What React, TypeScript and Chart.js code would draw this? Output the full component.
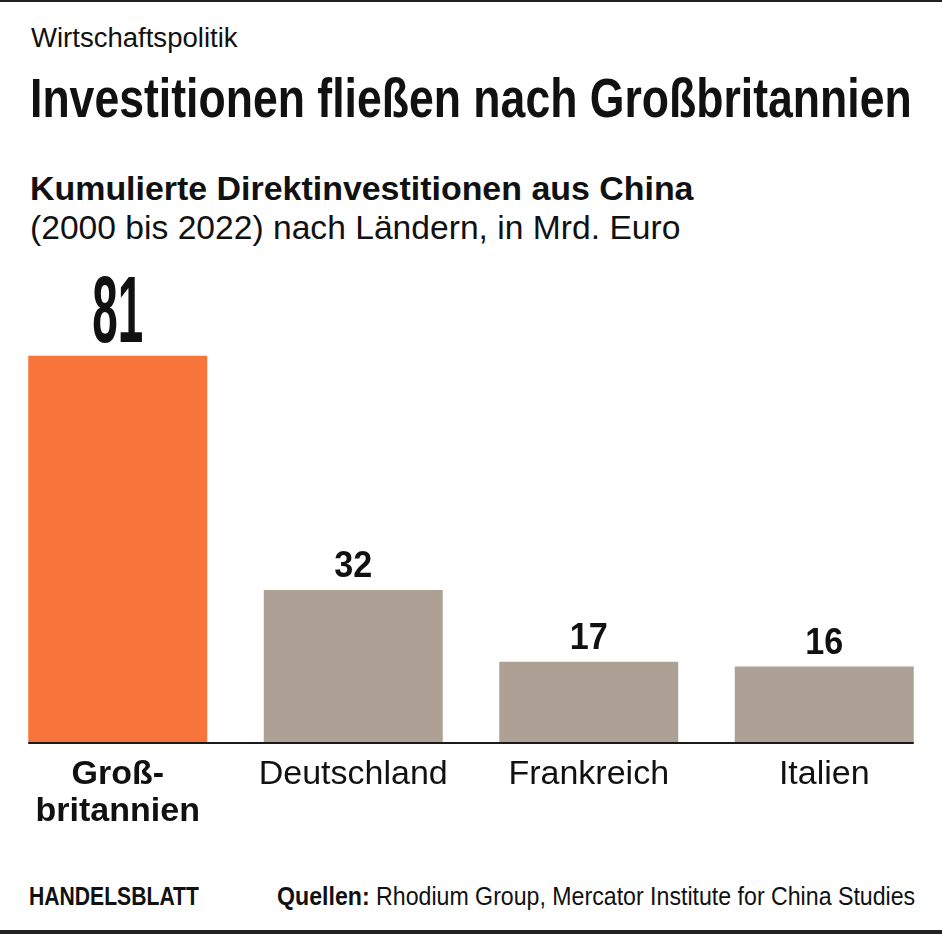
import React, { useEffect, useLayoutEffect, useRef, useState } from "react";
import { Chart, registerables } from "chart.js";

Chart.register(...registerables);

const categories: (string | string[])[] = [["Groß-", "britannien"], "Deutschland", "Frankreich", "Italien"];
const values: number[] = [81, 32, 17, 16];
const valueLabels: string[] = ["81", "32", "17", "16"];
const barColors: string[] = ["#F7743A", "#ADA195", "#ADA195", "#ADA195"];

const KICKER = "Wirtschaftspolitik";
const TITLE = "Investitionen fließen nach Großbritannien";
const SUB1 = "Kumulierte Direktinvestitionen aus China";
const SUB2 = "(2000 bis 2022) nach Ländern, in Mrd. Euro";
const BRAND = "HANDELSBLATT";
const SOURCE_LABEL = "Quellen:";
const SOURCE_TEXT = " Rhodium Group, Mercator Institute for China Studies";

const SANS = '"Liberation Sans", Arial, sans-serif';
const NARROW = '"Liberation Sans Narrow", "Liberation Sans", Arial, sans-serif';

type FitProps = {
  x: number;
  baseline: number;
  width: number;
  size: number;
  family: string;
  weight?: number | string;
  children: React.ReactNode;
};

function FitText({ x, baseline, width, size, family, weight = 400, children }: FitProps) {
  const ref = useRef<HTMLSpanElement>(null);
  const [sx, setSx] = useState(1);
  useLayoutEffect(() => {
    if (ref.current) {
      const w = ref.current.offsetWidth;
      if (w > 0) setSx(width / w);
    }
  }, [width]);
  return (
    <span
      ref={ref}
      style={{
        position: "absolute",
        left: x,
        top: baseline - 0.8465 * size,
        fontFamily: family,
        fontSize: size,
        fontWeight: weight as any,
        lineHeight: `${size}px`,
        whiteSpace: "nowrap",
        display: "inline-block",
        color: "#111",
        transformOrigin: "0 0",
        transform: `scaleX(${sx})`,
      }}
    >
      {children}
    </span>
  );
}

function BarChart() {
  const canvasRef = useRef<HTMLCanvasElement>(null);
  useEffect(() => {
    if (!canvasRef.current) return;
    const labelPlugin = {
      id: "valueLabels",
      afterDatasetsDraw(chart: any) {
        const ctx = chart.ctx;
        const meta = chart.getDatasetMeta(0);
        ctx.save();
        const first = meta.data[0];
        const last = meta.data[meta.data.length - 1];
        const y0 = chart.scales.y.getPixelForValue(0);
        ctx.strokeStyle = "#1a1a1a";
        ctx.lineWidth = 2;
        ctx.beginPath();
        ctx.moveTo(first.x - first.width / 2, y0);
        ctx.lineTo(last.x + last.width / 2, y0);
        ctx.stroke();
        ctx.fillStyle = "#111";
        ctx.textAlign = "center";
        ctx.textBaseline = "alphabetic";
        meta.data.forEach((bar: any, i: number) => {
          if (i === 0) {
            ctx.font = `bold 94px ${NARROW}`;
            ctx.fillText(valueLabels[i], bar.x, bar.y - 14, 51);
          } else {
            ctx.font = `bold 36px ${SANS}`;
            ctx.fillText(valueLabels[i], bar.x, bar.y - 13, 38);
          }
        });
        ctx.restore();
      },
    };
    const chart = new Chart(canvasRef.current, {
      type: "bar",
      data: {
        labels: categories as any,
        datasets: [
          {
            data: values,
            backgroundColor: barColors,
            borderWidth: 0,
            categoryPercentage: 1,
            barPercentage: 0.76,
          },
        ],
      },
      options: {
        animation: false,
        responsive: false,
        maintainAspectRatio: false,
        layout: { padding: { top: 15, left: 0, right: 0, bottom: 0 } },
        plugins: { legend: { display: false }, tooltip: { enabled: false }, title: { display: false } },
        scales: {
          x: {
            grid: { display: false, drawTicks: false },
            border: { display: false },
            afterFit: (axis: any) => {
              axis.height = 107;
            },
            ticks: {
              padding: 13,
              color: "#111",
              autoSkip: false,
              maxRotation: 0,
              font: (c: any) => ({
                family: SANS,
                size: 34,
                weight: c.index === 0 ? "bold" : "normal",
                lineHeight: 1.09,
              }),
            },
          },
          y: {
            display: false,
            min: 0,
            max: 100,
          },
        },
      },
      plugins: [labelPlugin],
    });
    return () => chart.destroy();
  }, []);
  return <canvas ref={canvasRef} width={942} height={600} style={{ display: "block", width: 942, height: 600 }} />;
}

export default function App() {
  return (
    <div
      style={{
        position: "absolute",
        left: 0,
        top: 0,
        width: 942,
        height: 934,
        background: "#fff",
        overflow: "hidden",
      }}
    >
      <div style={{ position: "absolute", left: 0, top: 0, width: 942, height: 2, background: "#222" }} />
      <FitText x={31} baseline={48} width={207} size={27} family={SANS}>
        {KICKER}
      </FitText>
      <FitText x={30} baseline={117} width={882} size={56} family={NARROW} weight={700}>
        {TITLE}
      </FitText>
      <FitText x={30} baseline={200} width={663} size={33} family={SANS} weight={700}>
        {SUB1}
      </FitText>
      <FitText x={30} baseline={239} width={650} size={33} family={SANS}>
        {SUB2}
      </FitText>
      <div style={{ position: "absolute", left: 0, top: 250, width: 942, height: 600 }}>
        <BarChart />
      </div>
      <FitText x={29} baseline={905} width={170} size={25} family={NARROW} weight={700}>
        {BRAND}
      </FitText>
      <FitText x={277} baseline={905} width={638} size={25} family={NARROW}>
        <b>{SOURCE_LABEL}</b>
        {SOURCE_TEXT}
      </FitText>
      <div style={{ position: "absolute", left: 0, top: 930, width: 942, height: 4, background: "#222" }} />
    </div>
  );
}
